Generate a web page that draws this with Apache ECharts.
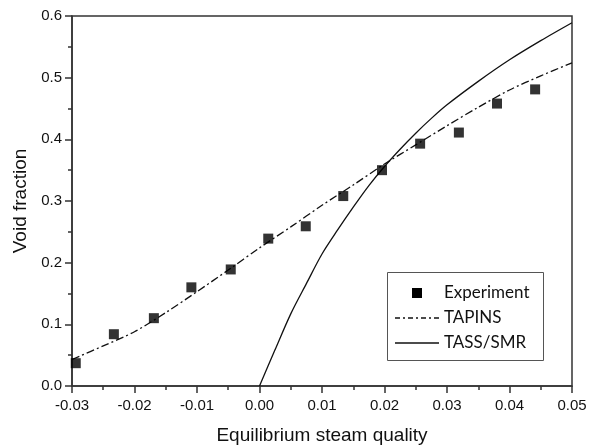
<!DOCTYPE html>
<html>
<head>
<meta charset="utf-8">
<script src="https://cdn.jsdelivr.net/npm/echarts@6/dist/echarts.min.js"></script>
<style>
  html, body { margin: 0; padding: 0; background: #fff; }
  #chart { width: 591px; height: 446px; }
</style>
</head>
<body>
<div id="chart"></div>
<script>
// Measured void fraction vs. equilibrium steam quality
const expQuality = [-0.0294, -0.0233, -0.0169, -0.0109, -0.0046, 0.0014, 0.0074, 0.0134, 0.0196, 0.0257, 0.0319, 0.0380, 0.0441];
const expVoid    = [0.037, 0.084, 0.110, 0.160, 0.189, 0.239, 0.259, 0.308, 0.350, 0.393, 0.411, 0.458, 0.481];

// TAPINS prediction
const tapinsQuality = [-0.03, -0.025, -0.02, -0.015, -0.01, -0.005, 0.0, 0.005, 0.01, 0.015, 0.02, 0.025, 0.03, 0.035, 0.04, 0.045, 0.05];
const tapinsVoid    = [0.043, 0.065, 0.088, 0.119, 0.153, 0.188, 0.224, 0.258, 0.293, 0.326, 0.360, 0.391, 0.422, 0.452, 0.480, 0.503, 0.524];

// TASS/SMR prediction
const tassQuality = [0.0, 0.0025, 0.005, 0.0075, 0.01, 0.0125, 0.015, 0.0175, 0.02, 0.0225, 0.025, 0.0275, 0.03, 0.035, 0.04, 0.045, 0.05];
const tassVoid    = [0.0, 0.059, 0.117, 0.166, 0.214, 0.253, 0.290, 0.325, 0.356, 0.384, 0.410, 0.434, 0.456, 0.494, 0.529, 0.560, 0.589];

const seriesNames = ['Experiment', 'TAPINS', 'TASS/SMR'];

const zip = (xs, ys) => xs.map((x, i) => [x, ys[i]]);

const axisColor = '#333';
const ink = '#111';
const axisFont = '"Liberation Sans", Arial, sans-serif';
const legendFont = 'Lato, "Open Sans", sans-serif';
const tapinsDash = [8, 3, 2, 3];

// Legend box drawn as graphic elements (square marker, dash-dot and solid line keys)
const legendBox = { x: 387, y: 272, w: 156, h: 88 };
const legendRows = [293, 318, 343];
const keyX0 = 395, keyX1 = 439, textX = 444;

const legendGraphic = [
  {
    type: 'rect', silent: true, z: 10,
    shape: { x: legendBox.x + 0.5, y: legendBox.y + 0.5, width: legendBox.w, height: legendBox.h },
    style: { fill: '#fff', stroke: '#555', lineWidth: 1 }
  },
  {
    type: 'rect', silent: true, z: 11,
    shape: { x: (keyX0 + keyX1) / 2 - 5, y: legendRows[0] - 5, width: 10, height: 10 },
    style: { fill: '#000' }
  },
  {
    type: 'line', silent: true, z: 11,
    shape: { x1: keyX0, y1: legendRows[1], x2: keyX1, y2: legendRows[1] },
    style: { stroke: ink, lineWidth: 1.3, lineDash: [5, 3, 2, 3] }
  },
  {
    type: 'line', silent: true, z: 11,
    shape: { x1: keyX0, y1: legendRows[2], x2: keyX1, y2: legendRows[2] },
    style: { stroke: ink, lineWidth: 1.3 }
  }
].concat(seriesNames.map((name, i) => ({
  type: 'text', silent: true, z: 11,
  x: textX, y: legendRows[i],
  style: {
    text: name, fill: ink,
    font: '17px ' + legendFont,
    textAlign: 'left', textVerticalAlign: 'middle'
  }
})));

const chart = echarts.init(document.getElementById('chart'), null, { renderer: 'canvas' });

chart.setOption({
  animation: false,
  backgroundColor: '#fff',
  textStyle: { fontFamily: axisFont },
  grid: {
    left: 72, right: 19, top: 16, bottom: 60,
    outerBoundsMode: 'none',
    containLabel: false,
    show: true, borderColor: axisColor, borderWidth: 1.5
  },
  graphic: legendGraphic,
  xAxis: {
    type: 'value',
    min: -0.03, max: 0.05, interval: 0.01,
    name: 'Equilibrium steam quality',
    nameLocation: 'middle', nameGap: 40,
    nameTextStyle: { fontFamily: axisFont, fontSize: 19, color: ink },
    axisLine: { show: true, onZero: false, lineStyle: { color: axisColor, width: 1.5 } },
    axisTick: { show: true, length: 7, lineStyle: { color: axisColor, width: 1.5 } },
    minorTick: { show: true, splitNumber: 2, length: 4, lineStyle: { color: axisColor, width: 1.5 } },
    splitLine: { show: false },
    axisLabel: {
      margin: 12, fontFamily: axisFont, fontSize: 15, color: ink,
      formatter: v => v.toFixed(2)
    }
  },
  yAxis: {
    type: 'value',
    min: 0, max: 0.6, interval: 0.1,
    name: 'Void fraction',
    nameLocation: 'middle', nameGap: 42,
    nameTextStyle: { fontFamily: axisFont, fontSize: 19, color: ink },
    axisLine: { show: true, onZero: false, lineStyle: { color: axisColor, width: 1.5 } },
    axisTick: { show: true, length: 7, lineStyle: { color: axisColor, width: 1.5 } },
    minorTick: { show: true, splitNumber: 2, length: 4, lineStyle: { color: axisColor, width: 1.5 } },
    splitLine: { show: false },
    axisLabel: {
      margin: 10, fontFamily: axisFont, fontSize: 15, color: ink,
      formatter: v => v.toFixed(1)
    }
  },
  series: [
    {
      name: seriesNames[1],
      type: 'line',
      data: zip(tapinsQuality, tapinsVoid),
      smooth: 0.3,
      showSymbol: false,
      symbol: 'none',
      lineStyle: { color: ink, width: 1.3, type: tapinsDash },
      z: 2
    },
    {
      name: seriesNames[2],
      type: 'line',
      data: zip(tassQuality, tassVoid),
      smooth: 0.3,
      showSymbol: false,
      symbol: 'none',
      lineStyle: { color: ink, width: 1.3, type: 'solid' },
      z: 2
    },
    {
      name: seriesNames[0],
      type: 'scatter',
      data: zip(expQuality, expVoid),
      symbol: 'rect',
      symbolSize: 10,
      itemStyle: { color: '#000' },
      z: 3
    }
  ]
});
</script>
</body>
</html>
